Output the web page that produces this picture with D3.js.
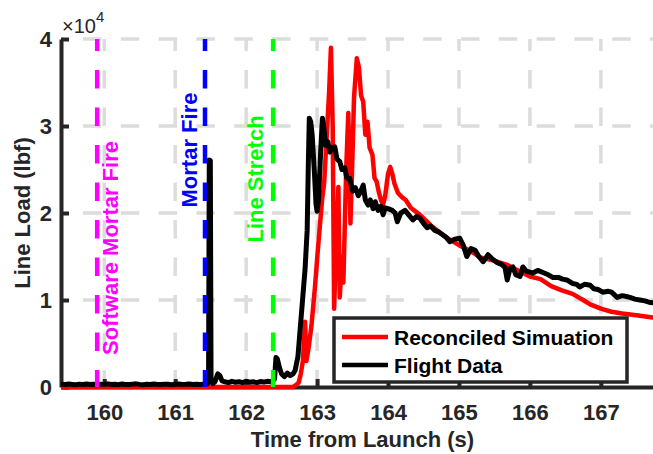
<!DOCTYPE html>
<html>
<head>
<meta charset="utf-8">
<script src="https://cdn.jsdelivr.net/npm/d3@7"></script>
<style>
  html, body { margin: 0; padding: 0; background: #fff; }
  svg { display: block; font-family: "Liberation Sans", Arial, Helvetica, sans-serif; }
</style>
</head>
<body>
<svg id="chart" width="653" height="454"></svg>
<script>
// ---- data (time from launch in s, line load in lbf) ----
const flightTime = [
  159.39, 159.45, 159.5, 159.55, 159.6, 159.65, 159.7, 159.75, 159.8, 159.85, 159.9, 159.95,
  160.0, 160.05, 160.1, 160.15, 160.2, 160.25, 160.3, 160.35, 160.4, 160.45, 160.5, 160.55,
  160.6, 160.65, 160.7, 160.75, 160.8, 160.85, 160.9, 160.95, 161.0, 161.05, 161.1, 161.15,
  161.2, 161.25, 161.3, 161.35, 161.4, 161.45, 161.47, 161.48, 161.495, 161.505, 161.53, 161.56,
  161.6, 161.63, 161.66, 161.7, 161.75, 161.8, 161.85, 161.9, 161.95, 162.0, 162.05, 162.1,
  162.15, 162.2, 162.25, 162.3, 162.35, 162.4, 162.42, 162.44, 162.47, 162.5, 162.54, 162.58,
  162.62, 162.66, 162.69, 162.73, 162.77, 162.8, 162.83, 162.86, 162.875, 162.89, 162.91, 162.93,
  162.96, 162.985, 163.0, 163.02, 163.05, 163.075, 163.1, 163.12, 163.15, 163.18, 163.21, 163.25,
  163.28, 163.32, 163.35, 163.39, 163.42, 163.46, 163.5, 163.54, 163.58, 163.61, 163.65, 163.68,
  163.72, 163.75, 163.79, 163.82, 163.86, 163.9, 163.93, 163.96, 164.0, 164.06, 164.1, 164.13,
  164.18, 164.24, 164.3, 164.35, 164.4, 164.45, 164.5, 164.55, 164.6, 164.66, 164.72, 164.77,
  164.82, 164.87, 164.94, 165.01, 165.06, 165.11, 165.17, 165.23, 165.28, 165.34, 165.41, 165.47,
  165.54, 165.6, 165.65, 165.68, 165.72, 165.76, 165.8, 165.86, 165.9, 165.95, 166.0, 166.04,
  166.11, 166.2, 166.26, 166.32, 166.4, 166.46, 166.52, 166.6, 166.66, 166.7, 166.77, 166.85,
  166.9, 166.96, 167.03, 167.1, 167.15, 167.23, 167.3, 167.36, 167.41, 167.48, 167.55, 167.62,
  167.7, 167.78, 167.85
];
const flightLoad = [
  320, 280, 340, 300, 260, 330, 290, 350, 280, 310, 270, 330,
  300, 360, 290, 320, 270, 340, 300, 280, 330, 360, 300, 270,
  320, 290, 350, 300, 280, 330, 310, 270, 320, 350, 290, 310,
  340, 280, 320, 300, 330, 350, 500, 26100, 26000, 800, 400, 600,
  1500, 1300, 700, 600, 500, 650, 550, 600, 500, 650, 550, 600,
  500, 620, 580, 650, 600, 900, 3400, 3200, 2200, 1500, 1200, 1600,
  1300, 1500, 1900, 3500, 7500, 10500, 13500, 18000, 25000, 30900, 30500, 29000,
  25000, 21000, 20200, 21500, 27000, 30900, 29500, 27800, 28200, 27000, 27500, 27600,
  26200, 25900, 25000, 25200, 24000, 24000, 22500, 22900, 22000, 22400, 23200, 21500,
  20900, 21500, 20500, 21300, 20300, 20800, 19800, 20600, 20500, 20300, 20000, 19000,
  20000, 20300, 19700, 19200, 19600, 19400, 18800, 18300, 18500, 18000, 17800, 17500,
  17200, 16700, 17000, 17100, 16300, 15000, 15900, 15700, 15000, 14400, 15200, 14700,
  14300, 14100, 13700, 12300, 13600, 13800, 12900, 12700, 13800, 13300, 13200, 13100,
  13400, 13100, 12900, 12600, 12600, 12400, 12300, 11900, 11800, 11500, 11800, 11700,
  11300, 11200, 10900, 11000, 10900, 10300, 10500, 10400, 10300, 10100, 10000, 9900,
  9700, 9650, 9600
];

const simTime = [
  159.39, 162.66, 162.7, 162.74, 162.77, 162.8, 162.83, 162.85, 162.88, 162.92, 162.97, 163.01,
  163.07, 163.1, 163.13, 163.17, 163.195, 163.22, 163.24, 163.26, 163.3, 163.32, 163.35, 163.37,
  163.41, 163.44, 163.47, 163.5, 163.52, 163.54, 163.56, 163.59, 163.62, 163.65, 163.68, 163.71,
  163.74, 163.78, 163.81, 163.84, 163.87, 163.9, 163.93, 163.96, 164.0, 164.03, 164.06, 164.09,
  164.14, 164.2, 164.25, 164.32, 164.4, 164.45, 164.6, 164.8, 165.0, 165.15, 165.3, 165.5,
  165.69, 165.85, 166.0, 166.15, 166.3, 166.45, 166.6, 166.75, 166.85, 167.0, 167.15, 167.3,
  167.5, 167.73, 167.85
];
const simLoad = [
  0, 0, 200, 500, 1500, 3000, 7500, 3000, 4500, 7000, 11500, 15700,
  21500, 23500, 28000, 34000, 39000, 30000, 9000, 14000, 23000, 10300, 15000, 12000,
  25000, 31500, 18800, 27000, 33200, 35500, 37800, 36700, 33500, 32800, 29000, 30500,
  27500, 26700, 24000, 23600, 22400, 21500, 21000, 22000, 24500, 25300, 24500, 23400,
  22300, 21800, 21500, 20600, 20100, 19800, 18600, 17300, 16300, 15700, 14900, 14500,
  14000, 13300, 12700, 12400, 11600, 11100, 10700, 10000, 9500, 9000, 8650, 8450,
  8250, 8000, 7950
];

const seriesNames = ["Reconciled Simuation", "Flight Data"];

const eventTimes = [159.9, 161.42, 162.38];
const eventLabels = ["Software Mortar Fire", "Mortar Fire", "Line Stretch"];

const xTicks = [160, 161, 162, 163, 164, 165, 166, 167];
const yTicks = [0, 10000, 20000, 30000, 40000];
const yTickLabels = ["0", "1", "2", "3", "4"];
const xDomain = [159.39, 167.89];
const yDomain = [0, 40000];

// ---- styles and layout ----
const seriesColors = ["#ff0000", "#000000"];
const eventColors = ["#ff00ff", "#0000ff", "#00ff00"];
// label baseline offset from its event line (px) and vertical centre (px)
const eventLabelDx = [21, -8, -10];
const eventLabelCy = [248, 150, 179];
const axisColor = "#262626";
const gridColor = "#dcdcdc";
const fontSize = 22;
const legendFontSize = 21;

const svg = d3.select("#chart");
svg.append("rect").attr("width", 653).attr("height", 454).attr("fill", "#fff");

const plotLeft = 61, plotRight = 664, plotTop = 39, plotBottom = 387;
const x = d3.scaleLinear().domain(xDomain).range([plotLeft, plotRight]);
const y = d3.scaleLinear().domain(yDomain).range([plotBottom, plotTop]);

// grid
const grid = svg.append("g");
grid.selectAll("line.v").data(xTicks).join("line")
  .attr("x1", d => x(d)).attr("x2", d => x(d))
  .attr("y1", plotTop).attr("y2", plotBottom)
  .attr("stroke", gridColor).attr("stroke-width", 3.5)
  .attr("stroke-dasharray", "18.5,19").attr("stroke-dashoffset", 6.5);
grid.selectAll("line.h").data(yTicks.filter(d => d > 0)).join("line")
  .attr("x1", plotLeft).attr("x2", plotRight)
  .attr("y1", d => y(d)).attr("y2", d => y(d))
  .attr("stroke", gridColor).attr("stroke-width", 3.5)
  .attr("stroke-dasharray", "18.5,19.3").attr("stroke-dashoffset", 15.8);

// axes
const xAxis = d3.axisBottom(x).tickValues(xTicks).tickSizeInner(-8).tickSizeOuter(0).tickFormat(d3.format("d"));
const yAxis = d3.axisLeft(y).tickValues(yTicks).tickSizeInner(-8).tickSizeOuter(0)
  .tickFormat((d, i) => yTickLabels[i]);

const gx = svg.append("g").attr("transform", `translate(0,${plotBottom})`).call(xAxis);
const gy = svg.append("g").attr("transform", `translate(${plotLeft},0)`).call(yAxis);
[gx, gy].forEach(g => {
  g.select(".domain").attr("stroke", axisColor).attr("stroke-width", 4);
  g.selectAll(".tick line").attr("stroke", axisColor).attr("stroke-width", 4);
  g.selectAll(".tick text").attr("fill", axisColor)
    .style("font-size", fontSize + "px").style("font-weight", "bold")
    .style("font-family", '"Liberation Sans", Arial, sans-serif');
});
gx.selectAll(".tick text").attr("y", 33).attr("dy", null);
gy.selectAll(".tick text").attr("x", -9).attr("dy", "0.36em");

// exponent label
const expo = svg.append("text").attr("x", 62).attr("y", 33)
  .attr("fill", axisColor).style("font-size", "20px");
expo.append("tspan").text("\u00d710");
expo.append("tspan").attr("dy", -11).style("font-size", "15px").text("4");

// axis titles
svg.append("text").attr("x", 362.5).attr("y", 447).attr("text-anchor", "middle")
  .attr("fill", axisColor).style("font-size", fontSize + "px").style("font-weight", "bold")
  .text("Time from Launch (s)");
svg.append("text").attr("transform", `translate(30,${(plotTop + plotBottom) / 2}) rotate(-90)`)
  .attr("text-anchor", "middle")
  .attr("fill", axisColor).style("font-size", fontSize + "px").style("font-weight", "bold")
  .text("Line Load (lbf)");

// data lines
const clip = svg.append("clipPath").attr("id", "plotClip");
clip.append("rect").attr("x", plotLeft).attr("y", 0).attr("width", plotRight - plotLeft).attr("height", plotBottom + 6);

const line = d3.line().x(d => x(d[0])).y(d => y(d[1]));
const simPts = simTime.map((t, i) => [t, simLoad[i]]);
const flightPts = flightTime.map((t, i) => [t, flightLoad[i]]);

const plot = svg.append("g").attr("clip-path", "url(#plotClip)");
plot.append("path").datum(simPts).attr("d", line)
  .attr("fill", "none").attr("stroke", seriesColors[0]).attr("stroke-width", 4.5)
  .attr("stroke-linejoin", "round");
plot.append("path").datum(flightPts).attr("d", line)
  .attr("fill", "none").attr("stroke", seriesColors[1]).attr("stroke-width", 5)
  .attr("stroke-linejoin", "round");

// event markers
const ev = svg.append("g");
eventTimes.forEach((t, i) => {
  ev.append("line")
    .attr("x1", x(t)).attr("x2", x(t)).attr("y1", y(yDomain[1])).attr("y2", y(0))
    .attr("stroke", eventColors[i]).attr("stroke-width", 4.5)
    .attr("stroke-dasharray", "18.5,19").attr("stroke-dashoffset", 6.5);
  ev.append("text")
    .attr("transform", `translate(${x(t) + eventLabelDx[i]},${eventLabelCy[i]}) rotate(-90)`)
    .attr("text-anchor", "middle").attr("fill", eventColors[i])
    .style("font-size", fontSize + "px").style("font-weight", "bold")
    .text(eventLabels[i]);
});

// legend
const lg = svg.append("g");
lg.append("rect").attr("x", 334).attr("y", 318).attr("width", 293).attr("height", 64)
  .attr("fill", "#fff").attr("stroke", axisColor).attr("stroke-width", 3.5);
seriesNames.forEach((name, i) => {
  const cy = 337 + i * 28;
  lg.append("line").attr("x1", 342).attr("x2", 388).attr("y1", cy).attr("y2", cy)
    .attr("stroke", seriesColors[i]).attr("stroke-width", 4.5);
  lg.append("text").attr("x", 394).attr("y", cy + 8)
    .attr("fill", "#000").style("font-size", legendFontSize + "px").style("font-weight", "bold")
    .text(name);
});
</script>
</body>
</html>
